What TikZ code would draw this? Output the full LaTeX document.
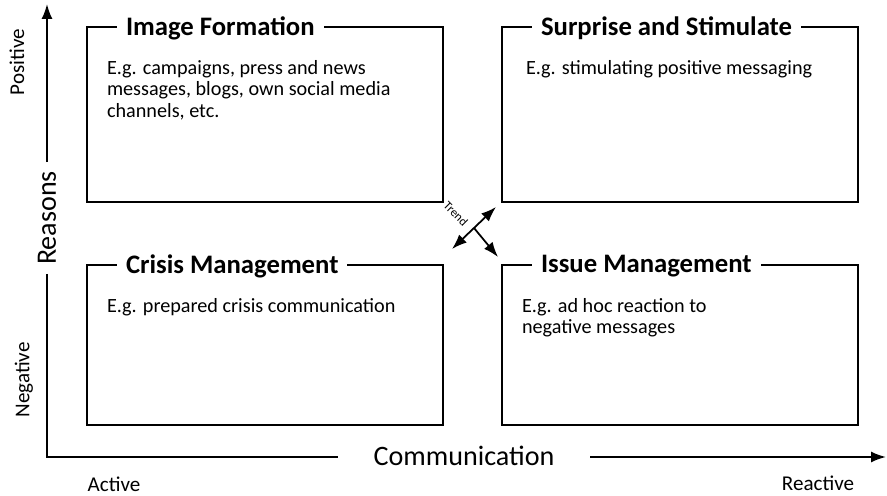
\documentclass[tikz,border=0pt]{standalone}
\usepackage{fontspec}
\setmainfont{Carlito}
\usetikzlibrary{arrows.meta, calc, positioning}

\begin{document}
\begin{tikzpicture}[x=0.02cm, y=-0.02cm, line width=1pt,
	>={Latex[length=3mm, width=2.2mm]},
	quad/.style={draw, minimum width=7.12cm, inner sep=0pt},
	quadtitle/.style={anchor=west, fill=white, inner xsep=0.18cm, inner ysep=1pt,
		font=\fontsize{15.2}{18}\selectfont\bfseries},
	quadtext/.style={anchor=north west, inner sep=0pt, align=left,
		font=\fontsize{11.5}{12.5}\selectfont},
	axislabel/.style={font=\fontsize{16}{18}\selectfont},
	endlabel/.style={font=\fontsize{12}{14}\selectfont}]
	
	\useasboundingbox (0,0) rectangle (887,496);
	
	% --- Constants ---
	\def\xl{265}
	\def\xr{680}
	\def\ytop{114.5}
	\def\ybot{345}
	
	% =======================================================
	% QUADRANTS
	% =======================================================
	\node[quad, minimum height=3.5cm] (imgbox) at (\xl, \ytop) {};
	\node[quad, minimum height=3.5cm] (surbox) at (\xr, \ytop) {};
	\node[quad, minimum height=3.2cm] (crisbox) at (\xl, \ybot) {};
	\node[quad, minimum height=3.2cm] (issbox) at (\xr, \ybot) {};
	
	% Titles sit on the top edge
	\node[quadtitle] (imgtitle) at ([xshift=0.6cm, yshift=-0.04cm] imgbox.north west) {Image Formation};
	\node[quadtitle] (surtitle) at ([xshift=0.6cm, yshift=-0.04cm] surbox.north west) {Surprise and Stimulate};
	\node[quadtitle] (cristitle) at ([xshift=0.6cm, yshift=-0.04cm] crisbox.north west) {Crisis Management};
	\node[quadtitle] (isstitle) at ([xshift=0.6cm, yshift=-0.04cm] issbox.north west) {Issue Management};
	
	% Body texts
	\node[quadtext] (imgtext) at ([xshift=0.4cm, yshift=-0.66cm] imgbox.north west)
	{E.g. campaigns, press and news\\messages, blogs, own social media\\channels, etc.};
	\node[quadtext] (surtext) at ([xshift=0.48cm, yshift=-0.66cm] surbox.north west)
	{E.g. stimulating positive messaging};
	\node[quadtext] (cristext) at ([xshift=0.4cm, yshift=-0.66cm] crisbox.north west)
	{E.g. prepared crisis communication};
	\node[quadtext] (isstext) at ([xshift=0.4cm, yshift=-0.66cm] issbox.north west)
	{E.g. ad hoc reaction to\\negative messages};
	
	% =======================================================
	% AXES
	% =======================================================
	\coordinate (origin) at (47, 457);
	\coordinate (ytip) at (47, 4);
	\coordinate (xtip) at (886, 457);
	
	\node[axislabel, rotate=90, inner xsep=0.16cm] (reasons) at (47, 218) {Reasons};
	\node[axislabel, inner xsep=0.7cm] (comm) at (464, 456) {Communication};
	
	\draw[->] (reasons) -- (ytip);
	\draw (reasons) -- (origin) -- (comm.west |- origin);
	\draw[->] (comm.east |- origin) -- (xtip);
	
	\node[endlabel, rotate=90] (pos) at (17, 62) {Positive};
	\node[endlabel, rotate=90] (neg) at (24, 380) {Negative};
	\node[endlabel] (act) at (114, 484) {Active};
	\node[endlabel] (react) at (818, 483) {Reactive};
	
	% =======================================================
	% TREND
	% =======================================================
	\coordinate (trendlo) at (452, 249);
	\coordinate (trendhi) at (496, 207);
	\coordinate (trendmid) at ($(trendlo)!0.5!(trendhi)$);
	\coordinate (trendend) at (498, 257);
	
	\draw[<->] (trendlo) -- (trendhi);
	\draw[->] (trendmid) -- (trendend);
	\node[rotate=-45, font=\fontsize{7}{8}\selectfont] (trend) at (456, 214) {Trend};
	
\end{tikzpicture}
\end{document}
